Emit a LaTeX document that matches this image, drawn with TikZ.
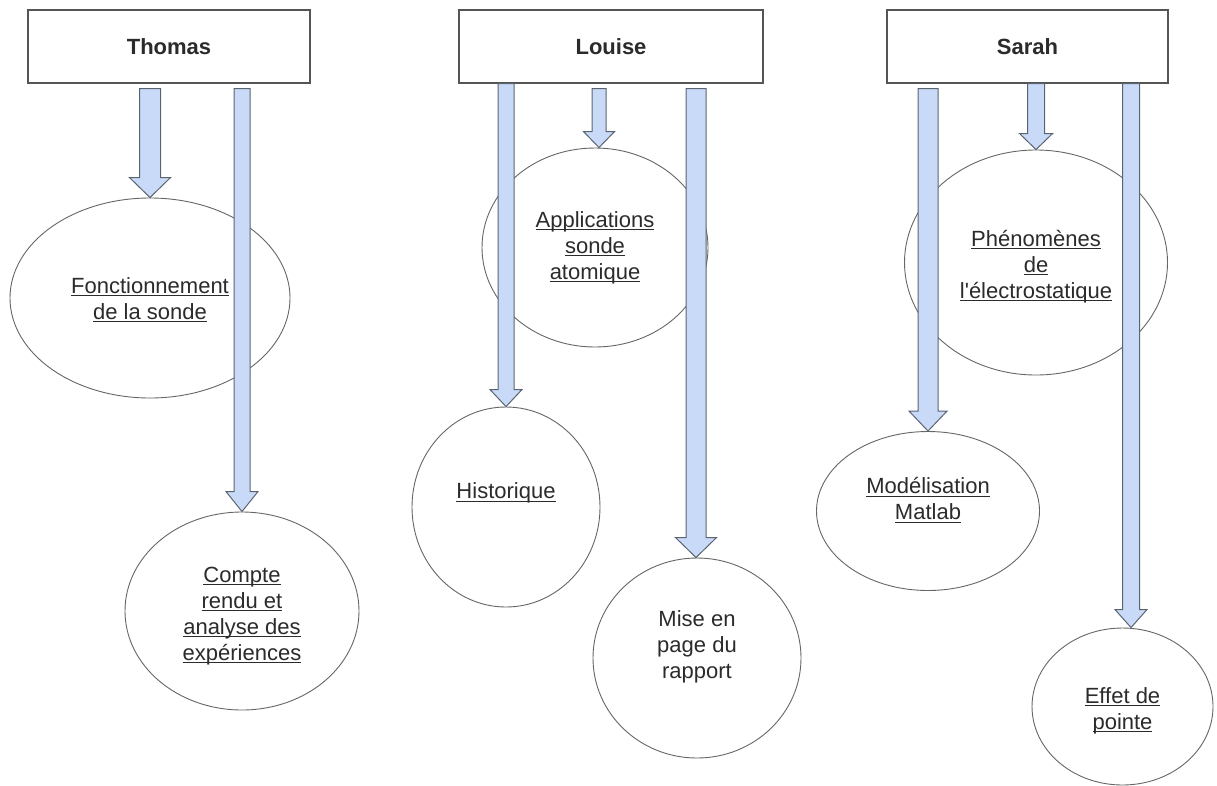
\documentclass[tikz,border=0pt]{standalone}
\usepackage{fontspec}
\setmainfont{Liberation Sans}
\usetikzlibrary{shapes.geometric,calc}
\definecolor{arrfill}{HTML}{C9DAF8}
\definecolor{arrline}{HTML}{5A6470}
\definecolor{boxline}{HTML}{555555}
\definecolor{elline}{HTML}{666666}
\definecolor{txt}{HTML}{2B2B2B}
\newcommand\ulx[1]{\setbox0\hbox{#1}\rlap{\rule[-3pt]{\wd0}{1pt}}\box0}
\newcommand\blockarrow[7]{%
  \path[blockarr] let \p1=(#1.south), \p2=($(#2.north)+(#3,0)$) in
   (\x2-#4pt,\y1-#7pt) -- (\x2+#4pt,\y1-#7pt) -- (\x2+#4pt,\y2+#6pt) -- (\x2+#5pt,\y2+#6pt)
   -- (\x2,\y2) -- (\x2-#5pt,\y2+#6pt) -- (\x2-#4pt,\y2+#6pt) -- cycle;}
\begin{document}
\begin{tikzpicture}[x=1pt,y=-1pt,
  person/.style={draw=boxline,line width=1.2pt,fill=white,rectangle,inner sep=0pt,minimum height=73pt,
    font=\fontsize{22}{26}\selectfont\bfseries,text=txt},
  task/.style={draw=elline,line width=0.9pt,fill=white,ellipse,inner sep=0pt},
  tasktext/.style={align=center,font=\fontsize{22}{26}\selectfont,text=txt,inner sep=0pt},
  blockarr/.style={draw=arrline,fill=arrfill,line width=1pt,line join=miter}]
\useasboundingbox (0,0) rectangle (1217,785);
% person boxes
\node[person,minimum width=282pt] (thomas) at (169,46.5) {Thomas};
\node[person,minimum width=304pt] (louise) at (611,46.5) {Louise};
\node[person,minimum width=281pt] (sarah) at (1027.5,46.5) {Sarah};
% task ellipses
\node[task,minimum width=280pt,minimum height=200pt] (fonct) at (150,298) {};
\node[task,minimum width=234pt,minimum height=198pt] (compte) at (242,611) {};
\node[task,minimum width=226pt,minimum height=199pt] (appl) at (595,247.5) {};
\node[task,minimum width=188pt,minimum height=200pt] (hist) at (506,507) {};
\node[task,minimum width=208pt,minimum height=200pt] (mise) at (697,658) {};
\node[task,minimum width=263pt,minimum height=225pt] (phen) at (1036,262.5) {};
\node[task,minimum width=223pt,minimum height=159pt] (model) at (928,511) {};
\node[task,minimum width=181pt,minimum height=157pt] (effet) at (1122.5,706.5) {};
% texts
\node[tasktext] (fonct-t) at ($(fonct.center)+(0,2)$) {\ulx{Fonctionnement}\\\ulx{de la sonde}};
\node[tasktext] (compte-t) at ($(compte.center)+(0,5)$) {\ulx{Compte}\\\ulx{rendu et}\\\ulx{analyse des}\\\ulx{expériences}};
\node[tasktext] (appl-t) at ($(appl.center)+(0,0)$) {\ulx{Applications}\\\ulx{sonde}\\\ulx{atomique}};
\node[tasktext] (hist-t) at ($(hist.center)+(0,-14)$) {\ulx{Historique}};
\node[tasktext] (mise-t) at ($(mise.center)+(0,-11)$) {Mise en\\page du\\rapport};
\node[tasktext] (phen-t) at ($(phen.center)+(0,4)$) {\ulx{Phénomènes}\\\ulx{de}\\\ulx{l\textquotesingle électrostatique}};
\node[tasktext] (model-t) at ($(model.center)+(0,-11)$) {\ulx{Modélisation}\\\ulx{Matlab}};
\node[tasktext] (effet-t) at ($(effet.center)+(0,4)$) {\ulx{Effet de}\\\ulx{pointe}};
% block arrows: source, target, xshift, shaft half width, head half width, head length, gap
\blockarrow{thomas}{fonct}{0}{10.5}{20.5}{20}{5}
\blockarrow{thomas}{compte}{0}{8}{16}{20}{5}
\blockarrow{louise}{hist}{0}{8}{16}{17}{0}
\blockarrow{louise}{appl}{4}{7}{15.5}{16}{5}
\blockarrow{louise}{mise}{-1}{10}{20.5}{20}{5}
\blockarrow{sarah}{model}{0}{10}{19}{20}{5}
\blockarrow{sarah}{phen}{0}{8.5}{16.5}{16}{0}
\blockarrow{sarah}{effet}{8.5}{8.5}{16}{18}{0}
\end{tikzpicture}
\end{document}
